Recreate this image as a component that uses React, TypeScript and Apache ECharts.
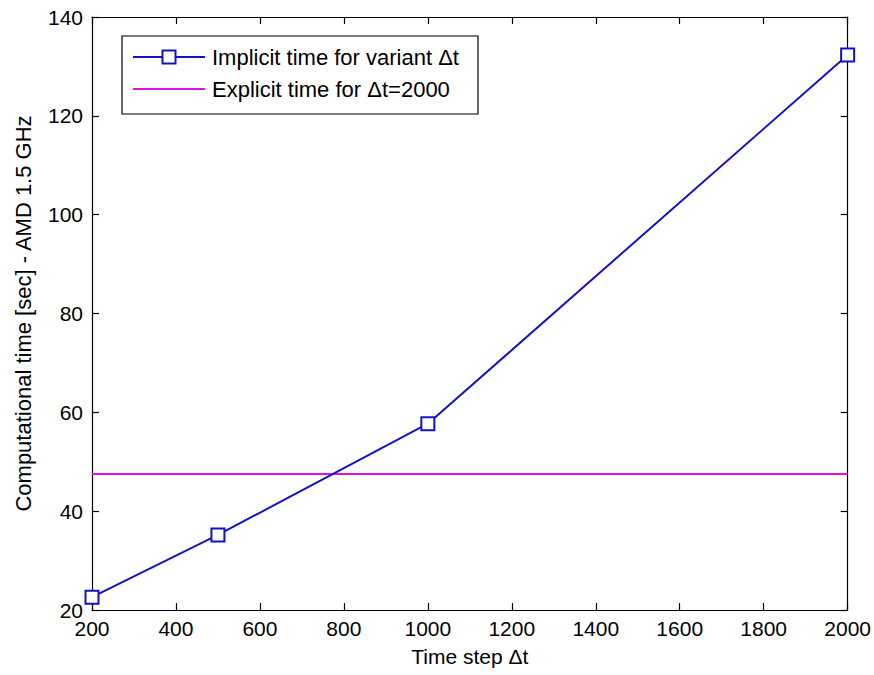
import React, { useEffect, useRef } from "react";
import * as echarts from "echarts";

const timeSteps = [200, 500, 1000, 2000];
const implicitTimes = [22.6, 35.2, 57.7, 132.3];
const explicitRange = [200, 2000];
const explicitTime = 47.5;
const seriesNames = ["Implicit time for variant Δt", "Explicit time for Δt=2000"];

const BLUE = "#1212c8";
const MAGENTA = "#e010e0";

export default function App() {
  const ref = useRef<HTMLDivElement>(null);
  useEffect(() => {
    const chart = echarts.init(ref.current!, null, { renderer: "svg" });
    const font = "Liberation Sans, Arial, sans-serif";
    const axisCommon = {
      axisLine: { show: true, onZero: false, lineStyle: { color: "#000", width: 1.2 } },
      axisTick: { show: true, inside: true, length: 7, lineStyle: { color: "#000", width: 1.2 } },
      splitLine: { show: false },
    };
    const fmt = (v: number) => String(v);
    chart.setOption({
      animation: false,
      backgroundColor: "#fff",
      grid: { left: 92, top: 17, right: 26, bottom: 65, containLabel: false },
      xAxis: [
        {
          type: "value",
          min: 200,
          max: 2000,
          interval: 200,
          name: "Time step Δt",
          nameLocation: "middle",
          nameGap: 36,
          nameTextStyle: { fontFamily: font, fontSize: 21, color: "#000" },
          axisLabel: { fontFamily: font, fontSize: 21, color: "#000", margin: 8, formatter: fmt },
          ...axisCommon,
        },
        {
          type: "value",
          position: "top",
          min: 200,
          max: 2000,
          interval: 200,
          axisLabel: { show: false },
          ...axisCommon,
        },
      ],
      yAxis: [
        {
          type: "value",
          min: 20,
          max: 140,
          interval: 20,
          name: "Computational time [sec] - AMD 1.5 GHz",
          nameLocation: "middle",
          nameGap: 58,
          nameTextStyle: { fontFamily: font, fontSize: 22, color: "#000" },
          axisLabel: { fontFamily: font, fontSize: 21, color: "#000", margin: 9, formatter: fmt },
          ...axisCommon,
        },
        {
          type: "value",
          position: "right",
          min: 20,
          max: 140,
          interval: 20,
          axisLabel: { show: false },
          ...axisCommon,
        },
      ],
      graphic: [
        {
          type: "rect",
          shape: { x: 122, y: 36, width: 356, height: 78 },
          style: { fill: "#fff", stroke: "#000", lineWidth: 1.2 },
          z: 10,
        },
        {
          type: "line",
          shape: { x1: 133, y1: 57, x2: 205, y2: 57 },
          style: { stroke: BLUE, lineWidth: 2 },
          z: 11,
        },
        {
          type: "rect",
          shape: { x: 162.5, y: 50.5, width: 13, height: 13 },
          style: { fill: "#fff", stroke: BLUE, lineWidth: 2 },
          z: 12,
        },
        {
          type: "text",
          x: 212,
          y: 57,
          style: { text: seriesNames[0], fontFamily: font, fontSize: 22, fill: "#000", verticalAlign: "middle" },
          z: 12,
        },
        {
          type: "line",
          shape: { x1: 133, y1: 89, x2: 205, y2: 89 },
          style: { stroke: MAGENTA, lineWidth: 2 },
          z: 11,
        },
        {
          type: "text",
          x: 212,
          y: 89,
          style: { text: seriesNames[1], fontFamily: font, fontSize: 22, fill: "#000", verticalAlign: "middle" },
          z: 12,
        },
      ],
      series: [
        {
          name: seriesNames[0],
          type: "line",
          data: timeSteps.map((t, i) => [t, implicitTimes[i]]),
          symbol: "rect",
          symbolSize: 13,
          itemStyle: { color: "#fff", borderColor: BLUE, borderWidth: 2 },
          lineStyle: { color: BLUE, width: 2 },
          color: BLUE,
          clip: false,
          z: 3,
        },
        {
          name: seriesNames[1],
          type: "line",
          data: explicitRange.map((t) => [t, explicitTime]),
          symbol: "none",
          lineStyle: { color: MAGENTA, width: 2 },
          color: MAGENTA,
          z: 2,
        },
      ],
    });
    return () => chart.dispose();
  }, []);
  return <div ref={ref} style={{ width: 874, height: 675, position: "absolute", left: 0, top: 0 }} />;
}
